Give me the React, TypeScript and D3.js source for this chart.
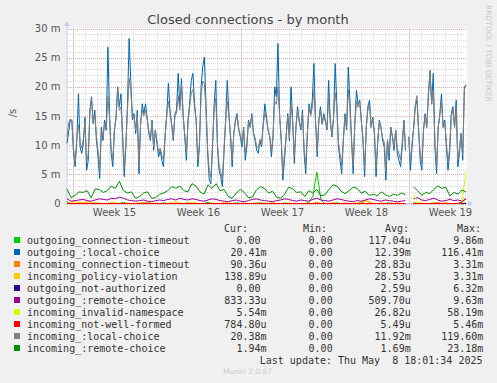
import React from 'react';
import * as d3 from 'd3';

const W = 497, H = 383;
const PL = 67, PR = 467, PT = 28.5, PB = 203.5;

const title = 'Closed connections - by month';
const yTickValues = [0, 5, 10, 15, 20, 25, 30];
const yTickLabels = ['0', '5 m', '10 m', '15 m', '20 m', '25 m', '30 m'];
const weekLabels = ['Week 15', 'Week 16', 'Week 17', 'Week 18', 'Week 19'];
const weekCenters = ['2025-04-09T12:00:00Z', '2025-04-16T12:00:00Z', '2025-04-23T12:00:00Z', '2025-04-30T12:00:00Z', '2025-05-07T12:00:00Z'];
const majorDays = ['2025-04-06T00:00:00Z', '2025-04-20T00:00:00Z', '2025-05-04T00:00:00Z'];
const timeStart = '2025-04-05T13:00:00Z';
const timeEnd = '2025-05-08T21:00:00Z';
const dataEnd = '2025-05-08T19:00:00Z';

// values in milli-connections per second
const outgoingLocal = [
  10.3, 12.3, 14.3, 14.3, 8.6, 6.3, 10.8, 18.8, 9.7, 8.6, 10.3, 14.8, 5.7, 7.4, 16.0, 18.3, 13.7, 16.0, 10.8, 8.0, 4.3, 13.1, 10.8, 14.3, 12.6, 26.8, 15.4, 8.6, 6.3, 12.6, 14.8, 20.0, 16.6, 18.8, 11.4, 4.6, 9.7, 17.1, 28.3, 21.1, 14.3, 15.4, 12.0,
  16.0, 5.1, 13.7, 17.1, 15.4, 17.1, 14.8, 12.0, 10.8, 14.3, 9.1, 12.6, 10.3, 8.0, 9.1, 7.4, 6.3, 11.4, 15.4, 20.6, 16.0, 13.7, 10.8, 15.4, 16.0, 22.3, 16.6, 21.4, 15.4, 11.4, 7.4, 14.3, 17.1, 21.1, 22.3, 17.1, 14.3, 6.3, 9.7, 20.0, 23.4, 25.1, 17.1, 8.6, 4.0,
  3.4, 9.7, 17.1, 21.1, 9.7, 5.7, 4.6, 2.9, 8.6, 14.3, 21.1, 15.4, 11.4, 6.3, 12.0, 14.3, 15.4, 12.6, 11.4, 9.7, 13.1, 7.4, 9.7, 14.3, 13.1, 15.4, 12.0, 10.8, 9.1, 8.6, 10.8, 9.7, 13.7, 17.1, 14.8, 12.6, 11.4, 8.0, 11.4, 20.0, 18.3, 27.4, 15.4, 10.8, 4.0,
  7.4, 11.4, 15.4, 10.8, 20.0, 14.3, 6.9, 13.1, 16.6, 14.3, 12.6, 16.0, 8.6, 5.1, 12.0, 17.1, 15.4, 17.7, 24.0, 14.3, 8.0, 14.3, 16.6, 13.7, 15.4, 14.3, 12.6, 21.1, 14.3, 11.4, 14.8, 24.0, 17.1, 9.7, 7.4, 5.1, 10.8, 15.4, 12.6, 23.4, 17.7, 10.8, 5.1, 13.7,
  19.4, 17.1, 17.7, 14.3, 10.8, 4.6, 13.1, 16.6, 17.7, 13.1, 14.8, 12.0, 4.6, 10.3, 14.3, 13.1, 10.8, 9.7, 4.0, 10.8, 7.4, 13.1, 11.4, 9.1, 12.6, 8.6, 7.4, 6.3, 9.7, 14.3, 9.1, null, 11.4, 5.7, 9.7, 13.1, 16.6, 17.7, 12.6, 7.4, 5.7, 12.6, 15.4, 13.1,
  18.3, 22.8, 17.1, 22.3, 9.7, 5.1, 13.1, 15.4, 18.8, 13.1, 14.3, 9.7, 5.7, 8.6, 15.4, 16.6, 13.1, 17.7, 6.3, 8.6, 12.0, 7.4, 20.0, 20.3,
];

const incomingLocal = [
  11.5, 13.8, 14.5, 13.9, 9.4, 7.0, 11.2, 13.5, 10.5, 9.5, 11.0, 14.0, 7.0, 8.5, 15.5, 18.0, 14.0, 15.2, 11.5, 9.0, 6.0, 12.5, 11.5, 13.8, 12.5, 18.5, 14.5, 9.5, 7.5, 12.8, 14.5, 19.8, 16.0, 16.5, 11.8, 6.0, 10.5, 16.0, 21.5, 19.5, 14.8, 15.0, 12.5,
  15.0, 6.5, 13.5, 16.0, 15.0, 16.0, 14.5, 12.5, 11.0, 14.0, 9.8, 12.5, 10.8, 8.8, 9.5, 8.2, 7.5, 11.8, 15.0, 17.5, 15.5, 13.5, 11.2, 15.0, 15.5, 18.5, 16.0, 20.5, 15.0, 11.8, 8.5, 13.8, 16.5, 19.0, 19.5, 16.5, 14.0, 7.5, 10.5, 18.5, 21.0, 20.5, 16.0, 9.5, 5.5,
  4.5, 10.5, 16.0, 18.0, 10.5, 6.5, 5.5, 4.0, 9.5, 14.0, 17.5, 15.0, 11.8, 7.5, 12.0, 14.0, 15.0, 12.8, 11.8, 10.5, 12.8, 8.5, 10.5, 14.0, 13.0, 15.0, 12.2, 11.2, 9.8, 9.5, 11.0, 10.2, 13.5, 15.5, 14.5, 12.5, 11.5, 9.0, 11.8, 17.5, 17.0, 20.0, 15.0, 11.2, 5.0,
  8.5, 11.5, 15.0, 11.2, 17.0, 14.0, 8.0, 13.0, 16.0, 14.0, 12.8, 15.5, 9.5, 6.5, 12.2, 16.5, 15.0, 16.5, 19.5, 14.0, 9.0, 14.0, 16.0, 13.5, 15.0, 14.0, 12.8, 18.0, 14.0, 11.8, 14.5, 19.0, 16.5, 10.5, 8.5, 6.5, 11.0, 15.0, 12.8, 19.5, 16.5, 11.2, 6.5, 13.5,
  17.5, 16.5, 17.5, 14.0, 11.2, 6.0, 13.0, 16.0, 17.0, 13.0, 14.5, 12.2, 6.0, 10.8, 14.0, 13.0, 11.2, 10.5, 5.5, 11.0, 8.5, 13.0, 11.5, 9.8, 12.5, 9.5, 8.5, 7.5, 10.5, 14.0, 10.0, null, 11.5, 7.0, 10.5, 13.0, 17.0, 18.5, 12.8, 8.5, 7.0, 12.5, 15.0, 13.0,
  19.0, 22.5, 17.0, 19.5, 10.5, 6.5, 13.0, 15.0, 17.5, 13.0, 14.0, 10.5, 7.0, 9.5, 15.0, 16.0, 13.0, 16.5, 7.5, 9.5, 12.0, 8.5, 19.5, 20.4,
];

const incomingRemote = [
  2.5, 1.0, 1.4, 2.0, 1.9, 2.2, 1.0, 2.5, 2.4, 1.9, 2.2, 3.0, 2.6, 3.8, 2.2, 1.8, 2.0, 0.9, 1.2, 1.8,
  2.0, 0.9, 1.0, 1.6, 1.8, 2.2, 2.9, 2.6, 3.0, 2.2, 2.0, 3.4, 3.0, 2.0, 1.6, 3.2, 2.6, 3.4, 2.2, 2.4,
  1.2, 0.9, 1.8, 2.4, 1.9, 1.0, 1.1, 2.3, 2.9, 2.6, 1.8, 2.1, 1.1, 0.9, 1.6, 2.8, 2.5, 1.9, 2.0, 1.2,
  2.2, 1.8, 2.4, 1.3, 1.5, 2.4, 3.2, 3.0, 2.1, 1.7, 2.2, 2.8, 2.6, 1.8, 2.1, 1.4, 1.6, 1.3, 2.0, 1.5,
  1.2, 1.6, 1.4, 1.8, 1.5, null, 2.8, 2.2, 1.4, 1.9, 1.7, 2.4, 3.0, 2.6, 2.8, 1.3, 1.9, 1.6, 2.3, 2.0,
];

const outgoingRemote = [
  0.8, 0.4, 0.5, 0.6, 0.7, 0.5, 0.4, 0.6, 0.8, 0.7, 0.6, 0.9, 0.8, 1.1, 0.9, 0.6, 0.5, 0.4, 0.5, 0.6,
  0.4, 0.3, 0.5, 0.6, 0.5, 0.7, 0.8, 0.6, 0.9, 0.7, 0.6, 0.8, 0.7, 0.5, 0.4, 0.6, 0.8, 0.7, 0.5, 0.4,
  0.3, 0.5, 0.6, 0.4, 0.3, 0.5, 0.7, 0.8, 0.6, 0.5, 0.4, 0.3, 0.5, 0.6, 0.8, 0.7, 0.5, 0.4, 0.6, 0.5,
  0.4, 0.7, 0.9, 0.6, 0.5, 0.4, 0.6, 0.8, 0.7, 0.5, 0.4, 0.3, 0.5, 0.4, 0.6, 0.8, 0.7, 0.5, 0.4, 0.6,
  0.5, 0.4, 0.3, 0.4, 0.5, null, 0.8, 1.0, 0.6, 0.5, 0.7, 0.9, 0.6, 0.4, 0.5, 0.7, 0.5, 0.6, 0.4, 0.8,
];

const outgoingTimeout = [
  0.3, 0, 0, 0.1, 0, 0, 0, 0.1, 0, 0, 0, 0.1, 0, 0, 0.2, 0, 0, 0, 0, 0.1,
  0, 0, 0, 0, 0.1, 0, 0, 0, 0, 0, 0.1, 0, 0, 0, 0, 0.2, 0, 0, 0, 0,
  0, 0, 0.1, 0, 0, 0, 0, 0, 0.1, 0, 0, 0, 0, 0, 0.1, 0, 0, 0, 0, 0,
  0.2, 1.2, 5.4, 0.6, 0, 0, 0, 0.1, 0, 0, 0, 0, 0, 0.1, 0, 0, 0, 0, 0, 0,
  0.1, 0, 0, 0, 0, null, 0.2, 0, 0, 0, 0, 0.1, 0, 0, 0, 0, 0, 0, 0, 0,
];

const incomingPolicy = [
  0, 0.2, 0.3, 0.2, 0.1, 0.3, 0.2, 0, 0.1, 0, 0, 0.1, 0.2, 0, 0, 0.1, 0, 0, 0.2, 0.1,
  0, 0, 0.1, 0, 0, 0, 0.2, 0.3, 0.1, 0, 0.1, 0.2, 0.1, 0, 0, 0, 0.1, 0, 0, 0.2,
  0.1, 0, 0, 0, 0.1, 0, 0, 0, 0, 0.1, 0, 0.2, 0, 0, 0, 0.1, 0, 0, 0, 0,
  0.1, 0, 0, 0, 0, 0, 0.2, 0, 0, 0.1, 0, 0, 0.1, 0.3, 0.4, 0.2, 0, 0, 0.1, 0,
  0, 0, 0.1, 0, 0, null, 0.3, 0, 0.1, 0, 0, 0.1, 0, 0, 0.2, 0, 0, 0, 0.1, 0.14,
];

const incomingTimeout = [
  0, 0, 0, 0, 0, 0.1, 0, 0, 0, 0, 0, 0, 0, 0, 0, 0, 0, 0, 0, 0,
  0.2, 0, 0, 0, 0, 0, 0, 0, 0, 0, 0, 0, 0, 0, 0, 0, 0, 0, 0, 0,
  0, 0, 0, 0, 0, 0, 0, 0.1, 0, 0, 0, 0, 0, 0, 0, 0, 0, 0, 0, 0,
  0, 0, 0.2, 0, 0, 0, 0, 0, 0, 0, 0, 0, 0, 0, 0.5, 0.3, 0, 0, 0, 0,
  0, 0, 0, 0, 0, null, 0, 0, 0, 0, 0, 0, 0.2, 0, 0, 0, 0, 0, 0, 0.09,
];

const outgoingNotAuth = [
  0, 0, 0, 0, 0, 0, 0, 0, 0, 0, 0, 0, 0, 0, 0, 0, 0, 0, 0, 0,
  0, 0, 0, 0, 0, 0, 0, 0, 0, 0, 0, 0, 0, 0, 0, 0, 0, 0, 0, 0,
  0, 0, 0, 0, 0, 0, 0, 0, 0, 0, 0, 0, 0, 0, 0, 0, 0, 0, 0, 0,
  0, 0, 0, 0, 0, 0, 0, 0, 0, 0, 0, 0, 0, 0, 0, 0, 0, 0, 0, 0,
  0, 0, 0, 0, 0, null, 0, 0, 0, 0, 0, 0, 0, 0, 0, 0, 0, 0, 0, 0,
];

const incomingInvalidNs = [
  0, 0, 0, 0, 0, 0, 0, 0, 0, 0, 0, 0, 0, 0, 0, 0, 0, 0, 0, 0,
  0, 0, 0, 0, 0, 0, 0, 0, 0, 0, 0, 0, 0, 0, 0, 0, 0, 0, 0, 0,
  0, 0, 0, 0, 0, 0, 0, 0, 0, 0, 0, 0, 0, 0, 0, 0, 0, 0, 0, 0,
  0, 0, 0, 0, 0, 0, 0, 0, 0, 0, 0, 0, 0, 0, 0, 0, 0, 0, 0, 0,
  0, 0, 0, 0, 0, null, 1.4, 0.3, 0, 0, 0, 0, 0, 0, 0, 0, 0, 0, 0.2, 5.5,
];

const incomingNotWellFormed = [
  0, 0, 0, 0, 0, 0, 0, 0, 0, 0, 0, 0, 0, 0, 0, 0, 0, 0, 0, 0,
  0, 0, 0, 0, 0, 0, 0, 0, 0, 0, 0, 0, 0, 0, 0, 0, 0, 0, 0, 0,
  0, 0, 0, 0, 0, 0, 0, 0, 0, 0, 0, 0, 0, 0, 0, 0, 0, 0, 0, 0,
  0, 0, 0, 0, 0, 0, 0, 0, 0, 0, 0, 0, 0, 0, 0, 0, 0, 0, 0, 0,
  0, 0, 0, 0, 0, null, 0, 0, 0, 0, 0, 0, 0, 0, 0, 0, 0, 0, 0.3, 0.8,
];

const legendNames = [
  'outgoing_connection-timeout', 'outgoing_:local-choice', 'incoming_connection-timeout',
  'incoming_policy-violation', 'outgoing_not-authorized', 'outgoing_:remote-choice',
  'incoming_invalid-namespace', 'incoming_not-well-formed', 'incoming_:local-choice', 'incoming_:remote-choice',
];
const legendColors = ['#00CC00', '#0066B3', '#FF8000', '#FFCC00', '#330099', '#990099', '#CCFF00', '#FF0000', '#808080', '#008F00'];
const curValues = ['0.00', '20.41m', '90.36u', '138.89u', '0.00', '833.33u', '5.54m', '784.80u', '20.38m', '1.94m'];
const minValues = ['0.00', '0.00', '0.00', '0.00', '0.00', '0.00', '0.00', '0.00', '0.00', '0.00'];
const avgValues = ['117.04u', '12.39m', '28.83u', '28.53u', '2.59u', '509.70u', '26.82u', '5.49u', '11.92m', '1.69m'];
const maxValues = ['9.86m', '116.41m', '3.31m', '3.31m', '6.32m', '9.63m', '58.19m', '5.46m', '119.60m', '23.18m'];
const seriesData = [outgoingTimeout, outgoingLocal, incomingTimeout, incomingPolicy, outgoingNotAuth, outgoingRemote, incomingInvalidNs, incomingNotWellFormed, incomingLocal, incomingRemote];
const lastUpdate = 'Last update: Thu May  8 18:01:34 2025';

export default function App() {
  const t0 = new Date(timeStart).getTime();
  const t1 = new Date(timeEnd).getTime();
  const tLast = new Date(dataEnd).getTime();
  const x = d3.scaleUtc().domain([t0, t1]).range([PL, PR]);
  const y = d3.scaleLinear().domain([0, 30]).range([PB, PT]);
  const days = d3.utcDay.range(new Date(t0), new Date(t1));
  const minorY = d3.range(0, 31, 1);

  const mkPath = (vals: (number | null)[]) => {
    const step = (tLast - t0) / (vals.length - 1);
    const line = d3.line<number | null>()
      .defined((d) => d !== null)
      .x((_, i) => x(t0 + i * step))
      .y((d) => y(d as number));
    return line(vals) || '';
  };

  const mono = '"DejaVu Sans Mono", monospace';
  const sans = '"DejaVu Sans", sans-serif';
  const cw = 6.02;
  const colEnds = [266.5, 338.7, 410.7, 483.3];
  const headers = [['Cur:', 248], ['Min:', 327], ['Avg:', 409], ['Max:', 481]] as const;
  const cols = [curValues, minValues, avgValues, maxValues];

  return (
    <svg width={W} height={H} style={{ position: 'absolute', left: 0, top: 0, background: '#F0F0F0' }}>
      <rect x={0} y={0} width={W} height={H} fill="#F0F0F0" />
      <rect x={PL} y={PT} width={PR - PL} height={PB - PT} fill="#FFFFFF" />
      {/* minor horizontal grid */}
      {minorY.filter((v) => v % 5 !== 0).map((v) => (
        <line key={'my' + v} x1={PL} x2={PR} y1={Math.round(y(v)) + 0.5} y2={Math.round(y(v)) + 0.5} stroke="#D8D8D8" strokeDasharray="1,1" />
      ))}
      {/* minor vertical grid */}
      {days.map((d, i) => (
        <line key={'mx' + i} x1={Math.round(x(d)) + 0.5} x2={Math.round(x(d)) + 0.5} y1={PT} y2={PB} stroke="#D8D8D8" strokeDasharray="1,1" />
      ))}
      {/* major grid */}
      {yTickValues.map((v) => (
        <line key={'My' + v} x1={PL} x2={PR} y1={Math.round(y(v)) + 0.5} y2={Math.round(y(v)) + 0.5} stroke="#EBA8A8" strokeDasharray="1,1" />
      ))}
      {majorDays.map((d) => (
        <line key={'Mx' + d} x1={Math.round(x(new Date(d))) + 0.5} x2={Math.round(x(new Date(d))) + 0.5} y1={PT} y2={PB} stroke="#EBA8A8" strokeDasharray="1,1" />
      ))}
      {/* axes */}
      <line x1={PL} x2={PL} y1={PB} y2={23} stroke="#C8CCF0" />
      <polygon points={`${PL - 3},26 ${PL + 3},26 ${PL},21`} fill="#C8CCF0" />
      <line x1={PL} x2={471} y1={PB} y2={PB} stroke="#C8CCF0" />
      <polygon points={`468,${PB - 3} 468,${PB + 3} 473,${PB}`} fill="#C8CCF0" />
      {/* series */}
      {seriesData.map((vals, i) => (
        <path key={'s' + i} d={mkPath(vals)} fill="none" stroke={legendColors[i]} strokeWidth={1} />
      ))}
      {/* y labels */}
      {yTickValues.map((v, i) => (
        <text key={'yl' + v} x={60.5} y={y(v) + 3.5} textAnchor="end" fontFamily={sans} fontSize={10} fill="#555">{yTickLabels[i]}</text>
      ))}
      {/* x labels */}
      {weekCenters.map((d, i) => (
        <text key={'xl' + i} x={x(new Date(d))} y={216} textAnchor="middle" fontFamily={sans} fontSize={10} fill="#555">{weekLabels[i]}</text>
      ))}
      <text x={248} y={24} textAnchor="middle" fontFamily={sans} fontSize={13} fill="#444">{title}</text>
      <text transform="translate(15.5,113) rotate(-90)" textAnchor="middle" fontFamily={sans} fontSize={10} fill="#555">/s</text>
      <text transform="translate(486,53.5) rotate(90)" textAnchor="middle" fontFamily={sans} fontSize={7.5} fill="#C8C8C8" textLength={97} lengthAdjust="spacingAndGlyphs">RRDTOOL / TOBI OETIKER</text>
      {/* legend */}
      {headers.map(([h, xe]) => (
        <text key={h} x={xe} y={231.8} textAnchor="end" fontFamily={mono} fontSize={10} fill="#333">{h}</text>
      ))}
      {legendNames.map((name, i) => (
        <g key={name}>
          <rect x={14} y={237 + 12 * i} width={6} height={6} fill={legendColors[i]} />
          <text x={27} y={243.5 + 12 * i} fontFamily={mono} fontSize={10} fill="#333">{name}</text>
          {cols.map((col, c) => {
            const v = col[i];
            const hasUnit = /[a-z]$/i.test(v);
            return (
              <text key={c} x={colEnds[c] - (hasUnit ? 0 : cw)} y={243.5 + 12 * i} textAnchor="end" fontFamily={mono} fontSize={10} fill="#333">{v}</text>
            );
          })}
        </g>
      ))}
      <text x={482.5} y={363.5} textAnchor="end" fontFamily={mono} fontSize={10} fill="#333" style={{ whiteSpace: 'pre' }}>{lastUpdate}</text>
      <text x={247.5} y={374} textAnchor="middle" fontFamily={sans} fontSize={7.5} fill="#CCCCCC">Munin 2.0.67</text>
    </svg>
  );
}
